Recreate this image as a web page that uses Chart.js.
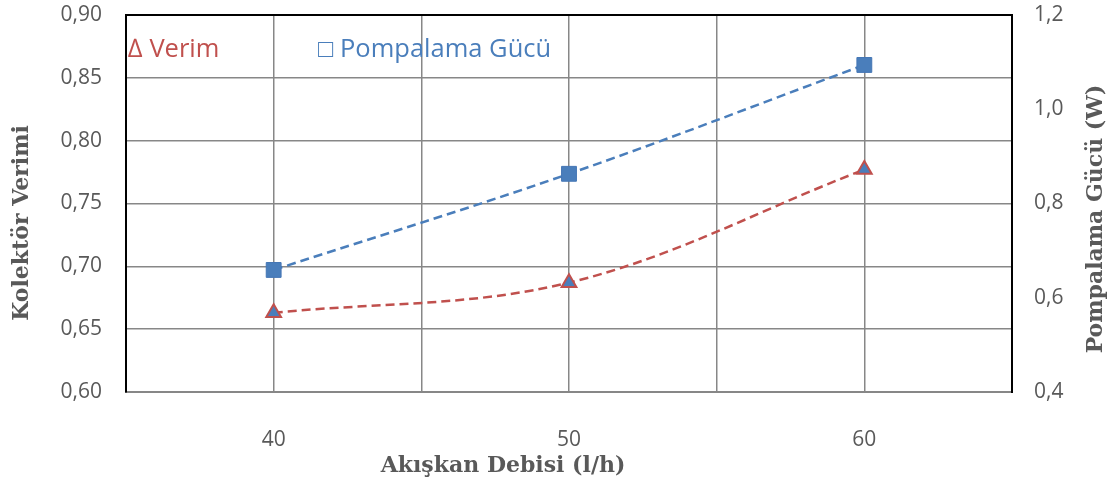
<!DOCTYPE html>
<html>
<head>
<meta charset="utf-8">
<script src="https://cdn.jsdelivr.net/npm/chart.js@4.4.0/dist/chart.umd.min.js"></script>
<style>
  html, body { margin: 0; padding: 0; background: #fff; }
  #wrap { width: 1116px; height: 483px; position: relative; }
</style>
</head>
<body>
<div id="wrap"><canvas id="c" width="1116" height="483"></canvas></div>
<script>
// data
const flowRates = [40, 50, 60];
const efficiency = [0.663, 0.687, 0.777];
const pumpPower = [0.659, 0.863, 1.094];
const xTickLabels = [40, 50, 60];

const xTitle = 'Akışkan Debisi (l/h)';
const yTitle = 'Kolektör Verimi';
const y1Title = 'Pompalama Gücü (W)';
const effLabel = '∆ Verim';
const powLabel = '□ Pompalama Gücü';

const RED = '#c0504d';
const BLUE = '#4a7ebb';
const TXT = '#595959';
const GRID = '#878787';

const pts = (xs, ys) => xs.map((x, i) => ({ x: x, y: ys[i] }));

// frame, text boxes and axis titles
const decor = {
  id: 'decor',
  afterDraw(chart) {
    const { ctx, chartArea: a } = chart;
    ctx.save();
    ctx.strokeStyle = '#000';
    ctx.lineWidth = 2;
    ctx.beginPath();
    ctx.moveTo(a.left, a.bottom);
    ctx.lineTo(a.left, a.top);
    ctx.lineTo(a.right, a.top);
    ctx.lineTo(a.right, a.bottom);
    ctx.stroke();

    ctx.textBaseline = 'middle';
    ctx.textAlign = 'left';
    ctx.font = '25.5px "Open Sans"';
    ctx.fillStyle = RED;
    ctx.fillText(effLabel, 128, 50);
    ctx.fillStyle = BLUE;
    ctx.fillText(powLabel, 318, 50);

    ctx.fillStyle = TXT;
    ctx.textAlign = 'center';
    ctx.font = 'bold 22px "DejaVu Serif"';
    ctx.fillText(xTitle, 503, 466);

    ctx.save();
    ctx.translate(22, 223);
    ctx.rotate(-Math.PI / 2);
    ctx.fillText(yTitle, 0, 0);
    ctx.restore();

    ctx.save();
    ctx.translate(1096, 219);
    ctx.rotate(-Math.PI / 2);
    ctx.fillText(y1Title, 0, 0);
    ctx.restore();
    ctx.restore();
  }
};

const tickFont = { family: 'Open Sans', size: 21 };

new Chart(document.getElementById('c'), {
  type: 'scatter',
  data: {
    datasets: [
      {
        label: 'Verim',
        data: pts(flowRates, efficiency),
        yAxisID: 'y',
        pointStyle: 'triangle',
        pointRadius: 8.5,
        pointBackgroundColor: BLUE,
        pointBorderColor: RED,
        pointBorderWidth: 2,
        showLine: false
      },
      {
        label: 'Pompalama Gücü',
        data: pts(flowRates, pumpPower),
        yAxisID: 'y1',
        pointStyle: 'rect',
        pointRadius: 10.5,
        pointBackgroundColor: BLUE,
        pointBorderColor: '#4576b5',
        pointBorderWidth: 1,
        showLine: false
      },
      {
        label: 'Verim trend',
        data: pts(flowRates, efficiency),
        yAxisID: 'y',
        showLine: true,
        pointRadius: 0,
        borderColor: RED,
        borderWidth: 2.5,
        borderDash: [9, 5],
        tension: 0.35
      },
      {
        label: 'Pompalama trend',
        data: pts(flowRates, pumpPower),
        yAxisID: 'y1',
        showLine: true,
        pointRadius: 0,
        borderColor: BLUE,
        borderWidth: 2.5,
        borderDash: [9, 5],
        tension: 0.35
      }
    ]
  },
  options: {
    responsive: false,
    animation: false,
    events: [],
    layout: { padding: { top: 15 } },
    plugins: { legend: { display: false }, tooltip: { enabled: false } },
    scales: {
      x: {
        type: 'linear',
        position: 'bottom',
        min: 35,
        max: 65,
        afterFit: s => { s.height = 91; s.paddingLeft = 0; s.paddingRight = 0; },
        ticks: {
          stepSize: 5,
          padding: 35,
          font: tickFont,
          color: TXT,
          maxRotation: 0,
          callback: v => xTickLabels.includes(v) ? String(v) : ''
        },
        grid: { color: GRID, lineWidth: 1.5, drawTicks: false },
        border: { color: GRID, width: 2 }
      },
      y: {
        position: 'left',
        min: 0.6,
        max: 0.9,
        afterFit: s => { s.width = 126; s.paddingTop = 0; s.paddingBottom = 0; },
        ticks: {
          stepSize: 0.05,
          padding: 24,
          font: tickFont,
          color: TXT,
          callback: v => v.toFixed(2).replace('.', ',')
        },
        grid: { color: GRID, lineWidth: 1.5, drawTicks: false },
        border: { color: '#000', width: 2 }
      },
      y1: {
        position: 'right',
        min: 0.4,
        max: 1.2,
        afterFit: s => { s.width = 104; s.paddingTop = 0; s.paddingBottom = 0; },
        ticks: {
          stepSize: 0.2,
          padding: 22,
          font: tickFont,
          color: TXT,
          callback: v => v.toFixed(1).replace('.', ',')
        },
        grid: { display: false, drawTicks: false },
        border: { color: '#000', width: 2 }
      }
    }
  },
  plugins: [decor]
});
</script>
</body>
</html>
